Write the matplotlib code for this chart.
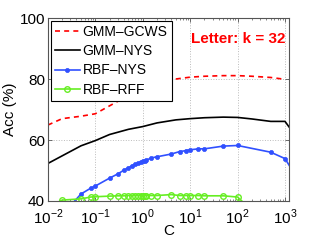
import numpy as np
import matplotlib
matplotlib.use('Agg')
import matplotlib.pyplot as plt
from matplotlib.ticker import LogLocator, NullFormatter

plt.rcParams['font.family'] = ['Liberation Sans', 'DejaVu Sans']
plt.rcParams['mathtext.fontset'] = 'custom'
plt.rcParams['mathtext.rm'] = 'Liberation Sans'

# GMM-GCWS (red dashed)
gcws_c = [0.01, 0.02, 0.05, 0.1, 0.2, 0.5, 1, 2, 5, 10, 20, 50, 100, 200, 500, 1000]
gcws_acc = [64.9, 67.0, 67.8, 68.6, 71.2, 74.6, 77.0, 78.7, 80.0, 80.6, 80.9, 81.1, 81.1, 80.9, 80.5, 79.9]

# GMM-NYS (black)
nys_c = [0.01, 0.02, 0.05, 0.1, 0.2, 0.5, 1, 2, 5, 10, 20, 50, 100, 200, 500, 1000, 2000]
nys_acc = [52.3, 54.8, 58.1, 59.8, 61.8, 63.5, 64.4, 65.6, 66.6, 67.0, 67.3, 67.5, 67.4, 66.9, 66.1, 66.1, 59.7]

# RBF-NYS (blue)
rbf_nys_c = [0.01, 0.02, 0.05, 0.08, 0.1, 0.2, 0.3, 0.4, 0.5, 0.6, 0.7, 0.8, 0.9, 1, 1.1, 1.2,
             1.5, 2, 4, 6, 8, 10, 15, 20, 50, 100, 500, 1000, 2000]
rbf_nys_acc = [30.0, 35.5, 42.3, 44.2, 44.9, 47.5, 48.9, 50.1, 50.9, 51.6, 52.1, 52.4, 52.7, 53.0, 53.2, 53.4,
               54.1, 54.5, 55.4, 56.2, 56.5, 56.8, 57.1, 57.1, 58.0, 58.2, 56.0, 53.9, 46.4]

# RBF-RFF (green)
rbf_rff_c = [0.01, 0.02, 0.05, 0.08, 0.1, 0.2, 0.3, 0.4, 0.5, 0.6, 0.7, 0.8, 0.9, 1, 1.1, 1.2,
             1.5, 2, 4, 6, 8, 10, 15, 20, 50, 100, 200]
rbf_rff_acc = [38.0, 40.3, 40.7, 41.3, 41.4, 41.6, 41.7, 41.7, 41.8, 41.8, 41.8, 41.8, 41.8, 41.8, 41.8, 41.8,
               41.8, 41.8, 42.1, 41.8, 41.8, 41.8, 41.8, 41.7, 41.7, 41.3, 36.9]

fig = plt.figure(figsize=(3.19, 2.40), dpi=100)
ax = fig.add_axes([0.150, 0.1625, 0.756, 0.7625])

ax.plot(gcws_c, gcws_acc, linestyle='--', color='red', linewidth=1.2, dashes=(3, 2.5), label='GMM\u2013GCWS')
ax.plot(nys_c, nys_acc, linestyle='-', color='black', linewidth=1.2, label='GMM\u2013NYS')
ax.plot(rbf_nys_c, rbf_nys_acc, linestyle='-', color='#3050ff', linewidth=1.2,
        marker='o', markersize=3, markeredgewidth=0.5, label='RBF\u2013NYS')
ax.plot(rbf_rff_c, rbf_rff_acc, linestyle='-', color='#66ee22', linewidth=1.2,
        marker='o', markersize=4, markerfacecolor='none', markeredgewidth=1.0, label='RBF\u2013RFF')

ax.set_xscale('log')
ax.set_xlim(0.01, 1215)
ax.set_ylim(40, 100)
ax.set_xticks([1e-2, 1e-1, 1e0, 1e1, 1e2, 1e3])
ax.set_xticklabels(['$10^{-2}$', '$10^{-1}$', '$10^{0}$', '$10^{1}$', '$10^{2}$', '$10^{3}$'])
ax.xaxis.set_minor_locator(LogLocator(base=10, subs=np.arange(2, 10)))
ax.xaxis.set_minor_formatter(NullFormatter())
ax.set_yticks([40, 60, 80, 100])

ax.tick_params(which='both', direction='in', top=True, right=True, labelsize=11, colors='#555555',
               labelcolor='black')
ax.tick_params(which='major', length=3, width=0.6)
ax.tick_params(axis='x', which='major', pad=4.5)
ax.tick_params(axis='y', which='major', pad=2)
ax.tick_params(which='minor', length=1.5, width=0.5)
for sp in ax.spines.values():
    sp.set_color('#555555')
    sp.set_linewidth(0.8)

ax.grid(True, which='major', linestyle=':', color='#bbbbbb', linewidth=0.7)

ax.set_xlabel('C', fontsize=11, labelpad=-2)
ax.set_ylabel('Acc (%)', fontsize=11, labelpad=2)

leg = ax.legend(loc='upper left', fontsize=10, handlelength=1.8, handletextpad=0.2,
                labelspacing=0.38, borderpad=0.3, borderaxespad=0.2, fancybox=False,
                framealpha=1, edgecolor='black')
leg.get_frame().set_linewidth(0.8)

ax.text(0.985, 0.885, 'Letter: k = 32', transform=ax.transAxes, ha='right', va='center',
        color='red', fontsize=11, fontweight='bold')

fig.savefig('out.png', dpi=100)
